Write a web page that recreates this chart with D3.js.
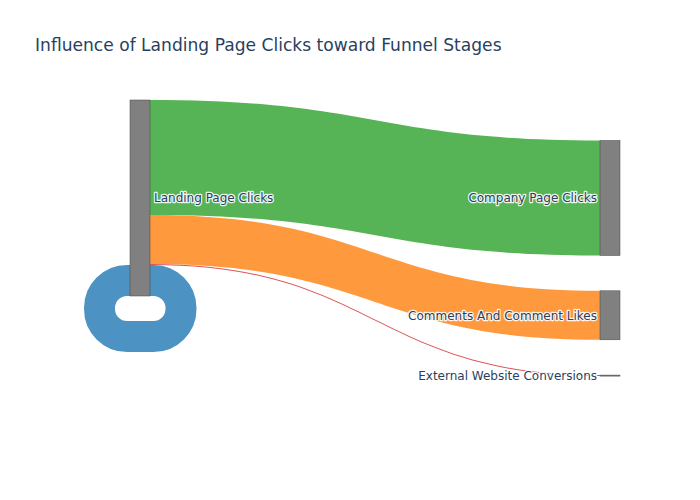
<!DOCTYPE html>
<html>
<head>
<meta charset="utf-8">
<script src="https://cdn.jsdelivr.net/npm/d3@7"></script>
<style>
  html, body { margin: 0; padding: 0; background: #fff; }
  svg { display: block; }
  text { font-family: "DejaVu Sans", verdana, arial, sans-serif; }
</style>
</head>
<body>
<svg id="chart" width="700" height="500"></svg>
<script>
// ---------------- DATA ----------------
const title = "Influence of Landing Page Clicks toward Funnel Stages";
const nodeNames = ["Landing Page Clicks", "Company Page Clicks", "Comments And Comment Likes", "External Website Conversions"];
const linkSources = [0, 0, 0, 0];
const linkTargets = [1, 2, 3, 0];
const linkValues = [115, 49, 1, 31];
const linkColors = ["rgba(44,160,44,0.8)", "rgba(255,127,14,0.8)", "rgba(214,39,40,0.8)", "rgba(31,119,180,0.8)"];

// ---------------- LAYOUT ----------------
const svg = d3.select("#chart");
const nodeWidth = 20;
const colX = d3.scaleOrdinal().domain([0, 1]).range([130, 600]);
const nodeCol = [0, 1, 1, 1];

const totalOut = d3.sum(linkValues.filter((v, i) => linkSources[i] === 0));
const ky = d3.scaleLinear().domain([0, totalOut]).range([0, 196]);

const nodes = nodeNames.map((name, i) => {
  const out = d3.sum(linkValues.filter((v, j) => linkSources[j] === i));
  const inn = d3.sum(linkValues.filter((v, j) => linkTargets[j] === i));
  return { name, i, value: Math.max(out, inn), col: nodeCol[i] };
});

const colTop = [100, 140.5];
const nodePad = 35.3;
[0, 1].forEach(c => {
  let y = colTop[c];
  nodes.filter(n => n.col === c).forEach(n => {
    n.x0 = colX(c); n.x1 = n.x0 + nodeWidth;
    n.y0 = y; n.y1 = y + ky(n.value);
    y = n.y1 + nodePad;
  });
});

const links = linkValues.map((v, i) => ({
  source: nodes[linkSources[i]], target: nodes[linkTargets[i]], value: v, color: linkColors[i], width: ky(v)
}));
nodes.forEach(n => { n.sOff = n.y0; });
links.forEach(l => { l.sy0 = l.source.sOff; l.source.sOff += l.width; l.sy1 = l.source.sOff; });
nodes.forEach(n => { n.tOff = n.y0; });
links.filter(l => l.source !== l.target).forEach(l => { l.ty0 = l.target.tOff; l.target.tOff += l.width; l.ty1 = l.target.tOff; });
links.filter(l => l.source === l.target).forEach(l => { l.ty1 = l.target.y1; l.ty0 = l.ty1 - l.width; });

// ---------------- DRAW ----------------
const gLinks = svg.append("g");

links.filter(l => l.source !== l.target).forEach(l => {
  const x0 = l.source.x1, x1 = l.target.x0, xm = (x0 + x1) / 2;
  const p = d3.path();
  p.moveTo(x0, l.sy0);
  p.bezierCurveTo(xm, l.sy0, xm, l.ty0, x1, l.ty0);
  p.lineTo(x1, l.ty1);
  p.bezierCurveTo(xm, l.ty1, xm, l.sy1, x0, l.sy1);
  p.closePath();
  gLinks.append("path").attr("d", p.toString()).attr("fill", l.color);
});

links.filter(l => l.source === l.target).forEach(l => {
  const n = l.source;
  const w = l.width;
  const yTop = (l.sy0 + l.sy1) / 2;
  const yEnt = (l.ty0 + l.ty1) / 2;
  const r = 27.5;
  const xR = n.x1 + w;
  const xL = n.x0 - w + 0.5;
  const yB = Math.max(yTop, yEnt) + 2 * r + 1;
  const p = d3.path();
  p.moveTo(n.x1, yTop);
  p.lineTo(xR - r, yTop);
  p.arcTo(xR, yTop, xR, yTop + r, r);
  p.lineTo(xR, yB - r);
  p.arcTo(xR, yB, xR - r, yB, r);
  p.lineTo(xL + r, yB);
  p.arcTo(xL, yB, xL, yB - r, r);
  p.lineTo(xL, yEnt + r);
  p.arcTo(xL, yEnt, xL + r, yEnt, r);
  p.lineTo(n.x0, yEnt);
  gLinks.insert("path", ":first-child").attr("d", p.toString())
    .attr("fill", "none").attr("stroke", l.color).attr("stroke-width", w);
});

svg.append("g").selectAll("rect").data(nodes).join("rect")
  .attr("x", d => d.x0).attr("y", d => d.y0)
  .attr("width", nodeWidth).attr("height", d => Math.max(d.y1 - d.y0, 0.5))
  .attr("fill", "rgb(128,128,128)")
  .attr("stroke", "#444").attr("stroke-width", 0.5);

svg.append("g").selectAll("text").data(nodes).join("text")
  .attr("x", d => d.col === 0 ? d.x1 + 4 : d.x0 - 3)
  .attr("y", d => (d.y0 + d.y1) / 2)
  .attr("dy", "0.35em")
  .attr("text-anchor", d => d.col === 0 ? "start" : "end")
  .attr("font-size", 12)
  .attr("fill", "#2a3f5f")
  .attr("stroke", "#fff").attr("stroke-width", 2.5).attr("stroke-opacity", 0.9)
  .attr("stroke-linejoin", "round")
  .attr("paint-order", "stroke")
  .text(d => d.name);

svg.append("text")
  .attr("x", 35).attr("y", 51)
  .attr("font-size", 17.1)
  .attr("fill", "#2a3f5f")
  .text(title);
</script>
</body>
</html>
